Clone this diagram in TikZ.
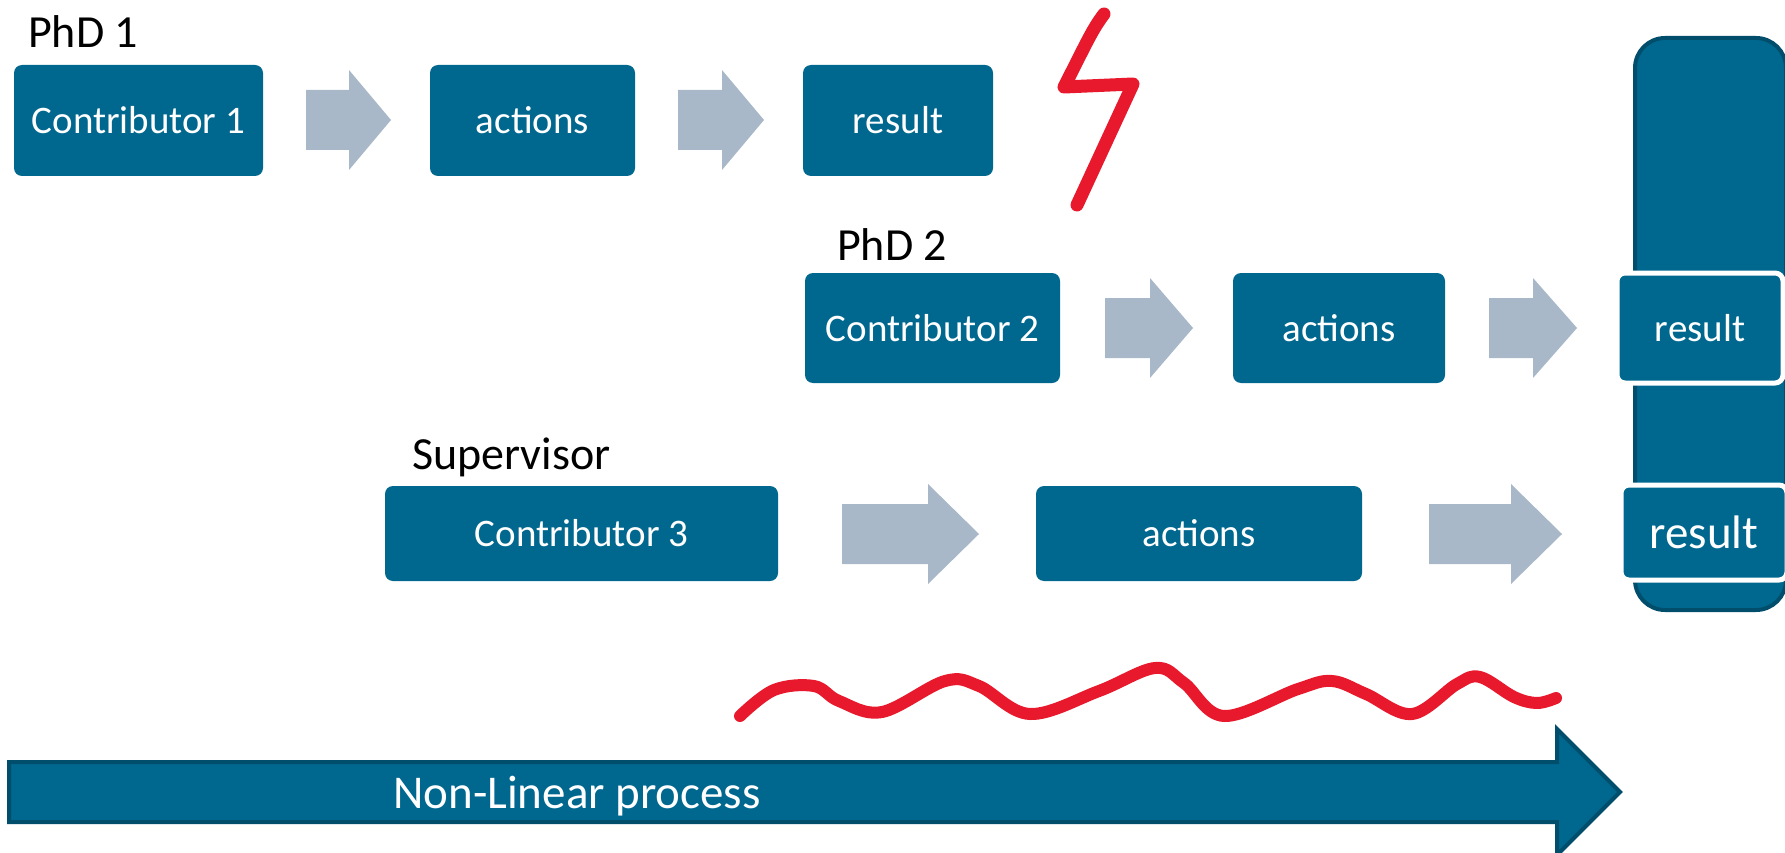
\documentclass[tikz,border=0pt]{standalone}
\usepackage{fontspec}
\setmainfont{Carlito}
\definecolor{boxblue}{HTML}{00688F}
\definecolor{darkblue}{HTML}{004E6C}
\definecolor{arrowgray}{HTML}{A9B8C8}
\definecolor{inkred}{HTML}{E8192C}
\newcommand{\blockarrow}[4]{% x1, head start, x2, y centre
  \fill[arrowgray] ({#1},{#4-30}) -- ({#2},{#4-30}) -- ({#2},{#4-50}) -- ({#3},{#4}) -- ({#2},{#4+50}) -- ({#2},{#4+30}) -- ({#1},{#4+30}) -- cycle;}
\begin{document}
\begin{tikzpicture}[x=1pt,y=-1pt,
  box/.style={fill=boxblue, rounded corners=8pt, inner sep=0pt, text=white, font=\fontsize{39}{47}\selectfont},
  resbox/.style={box, draw=white, line width=5pt},
  lab/.style={anchor=base west, inner sep=0pt, font=\fontsize{46}{55}\selectfont},
  ink/.style={draw=inkred, line cap=round, line join=round}]
\useasboundingbox (0,0) rectangle (1785,853);
\fill[white] (0,0) rectangle (1785,853);

% result column
\draw[fill=boxblue, draw=darkblue, line width=4pt, rounded corners=30pt] (1635,38) rectangle (1786,610);

% labels
\node[lab] (phd1) at (28,48) {PhD 1};
\node[lab] (phd2) at (837,260) {PhD 2};
\node[lab] (sup) at (412,469) {Supervisor};

% row 1
\node[box, minimum width=249pt, minimum height=111pt] (c1) at (138.5,120.5) {Contributor 1};
\node[box, minimum width=205pt, minimum height=111pt] (a1) at (532.5,120.5) {actions};
\node[box, minimum width=190pt, minimum height=111pt] (r1) at (898,120.5) {result};
\blockarrow{306}{349}{391}{120}
\blockarrow{678}{722}{764}{120}

% row 2
\node[box, minimum width=255pt, minimum height=110pt] (c2) at (932.5,328) {Contributor 2};
\node[box, minimum width=212pt, minimum height=110pt] (a2) at (1339,328) {actions};
\node[resbox, minimum width=166pt, minimum height=110pt] (r2) at (1700,328) {result};
\blockarrow{1105}{1150}{1193}{328}
\blockarrow{1489}{1533}{1577}{328}

% row 3
\node[box, minimum width=393pt, minimum height=95pt] (c3) at (581.5,533.5) {Contributor 3};
\node[box, minimum width=326pt, minimum height=95pt] (a3) at (1199,533.5) {actions};
\node[resbox, minimum width=166pt, minimum height=95pt, font=\fontsize{47}{56}\selectfont] (r3) at (1704,532.5) {result};
\blockarrow{842}{928}{979}{534}
\blockarrow{1429}{1511}{1562}{534}

% lightning
\draw[ink, line width=13pt] (1104,14) .. controls (1092,30) and (1088,40) .. (1064,87) -- (1133,84) -- (1077,205);

% wave
\draw[ink, line width=12pt] plot[smooth, tension=0.6] coordinates {
  (740,716) (774,690) (814,686) (839,701) (882,712) (945,681) (979,686)
  (1030,714) (1099,691) (1155,668) (1184,683) (1224,716) (1298,689)
  (1332,681) (1366,694) (1412,714) (1457,684) (1480,677) (1514,697)
  (1537,703) (1556,698)};

% process arrow
\draw[fill=boxblue, draw=darkblue, line width=4pt, line join=miter]
  (9,762) -- (1557,762) -- (1557,729) -- (1620,792) -- (1557,855) -- (1557,822) -- (9,822) -- cycle;
\node[anchor=base, inner sep=0pt, text=white, font=\fontsize{47}{56}\selectfont] (nl) at (577,808) {Non-Linear process};
\end{tikzpicture}
\end{document}
